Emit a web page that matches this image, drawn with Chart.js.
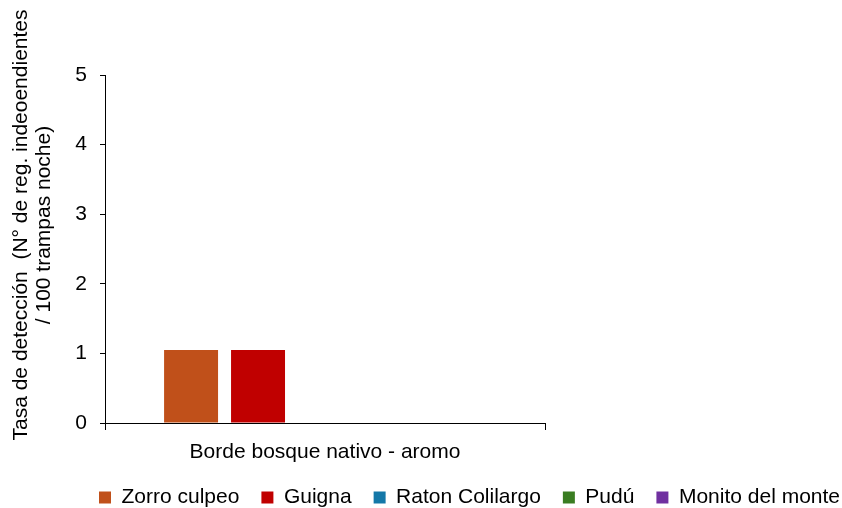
<!DOCTYPE html>
<html>
<head>
<meta charset="utf-8">
<script src="https://cdn.jsdelivr.net/npm/chart.js@4.4.1/dist/chart.umd.min.js"></script>
<style>
  html, body { margin: 0; padding: 0; background: #fff; }
  canvas { display: block; }
</style>
</head>
<body>
<canvas id="chart" width="842" height="508"></canvas>
<script>
// Data
const categories = ['Borde bosque nativo - aromo'];
const seriesNames = ['Zorro culpeo', 'Guigna', 'Raton Colilargo', 'Pudú', 'Monito del monte'];
const zorroValues = [1.05];
const guignaValues = [1.05];
const ratonValues = [0];
const puduValues = [0];
const monitoValues = [0];
const yTicks = [0, 1, 2, 3, 4, 5];

const colors = ['#C0501A', '#C00000', '#1478A8', '#3A7D22', '#7030A0'];
const seriesValues = [zorroValues, guignaValues, ratonValues, puduValues, monitoValues];

Chart.defaults.color = '#000';
Chart.defaults.font.family = "'Liberation Sans', Arial, sans-serif";
Chart.defaults.font.size = 21;

// Build datasets
const datasets = seriesNames.map((name, i) => ({
    label: name,
    data: seriesValues[i],
    backgroundColor: colors[i],
    borderWidth: 0,
    categoryPercentage: 0.761,
    barPercentage: 0.806
}));

// Small layout tweaks after Chart.js has placed the boxes
const layoutTweaks = {
    id: 'layoutTweaks',
    afterLayout(chart) {
        // legend a bit right and down
        const l = chart.legend;
        l.left += 20; l.right += 20;
        l.top += 10; l.bottom += 10;
        // let the category label overflow its box
        chart.scales.x.bottom += 14;
        // y title sits higher than the plot centre
        chart.scales.yTitle.top -= 48;
    }
};

new Chart(document.getElementById('chart'), {
    type: 'bar',
    data: { labels: categories, datasets: datasets },
    plugins: [layoutTweaks],
    options: {
        responsive: false,
        animation: false,
        layout: { padding: { top: 75, left: 0, right: 0, bottom: 0 } },
        plugins: {
            tooltip: { enabled: false },
            legend: {
                position: 'bottom',
                align: 'end',
                labels: {
                    boxWidth: 12,
                    boxHeight: 12,
                    padding: 22,
                    color: '#000',
                    font: { size: 21 }
                }
            }
        },
        scales: {
            x: {
                grid: { display: true, drawOnChartArea: false, tickLength: 7, color: '#000' },
                border: { color: '#000', width: 1 },
                ticks: { color: '#000', padding: 10 },
                afterFit: s => { s.height = 32; }
            },
            y: {
                min: 0,
                max: 5,
                weight: 0,
                afterBuildTicks: s => { s.ticks = yTicks.map(v => ({ value: v })); },
                grid: { display: true, drawOnChartArea: false, tickLength: 5, color: '#000' },
                border: { color: '#000', width: 1 },
                ticks: { color: '#000', padding: 13 },
                afterFit: s => { s.width = 50; }
            },
            // axis that only carries the y title
            yTitle: {
                type: 'linear',
                position: 'left',
                weight: 1,
                display: true,
                grid: { display: false },
                border: { display: false },
                ticks: { display: false },
                title: {
                    display: true,
                    text: ['Tasa de detección  (N° de reg. indeoendientes', '/ 100 trampas noche)'],
                    font: { size: 21, lineHeight: 1.08 },
                    color: '#000',
                    padding: { top: 10, bottom: 0 }
                },
                afterFit: s => { s.width = 55; }
            },
            // empty space right of the plot
            spacer: {
                type: 'linear',
                position: 'right',
                display: true,
                grid: { display: false },
                border: { display: false },
                ticks: { display: false },
                afterFit: s => { s.width = 297; }
            }
        }
    }
});
</script>
</body>
</html>
